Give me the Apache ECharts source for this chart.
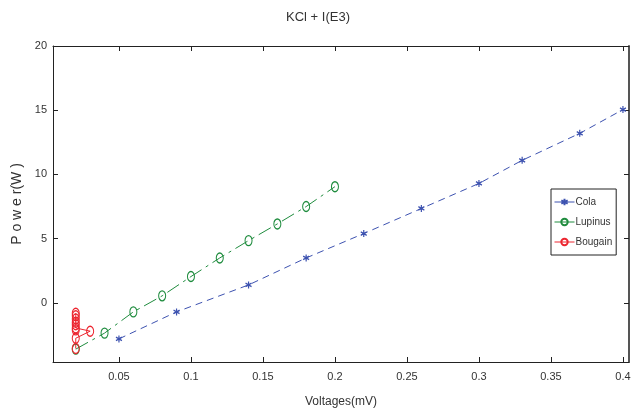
<!DOCTYPE html>
<html><head><meta charset="utf-8">
<script src="https://cdn.jsdelivr.net/npm/echarts@6/dist/echarts.min.js"></script>
<style>html,body{margin:0;padding:0;background:#fff}#c{width:636px;height:414px}</style>
</head><body><div id="c"></div>
<script>
var xTicks = [0.05, 0.1, 0.15, 0.2, 0.25, 0.3, 0.35, 0.4];
var yTicks = [0, 5, 10, 15, 20];
var colaX = [0.05, 0.09, 0.14, 0.18, 0.22, 0.26, 0.30, 0.33, 0.37, 0.40];
var colaY = [-2.8, -0.7, 1.4, 3.5, 5.4, 7.35, 9.3, 11.1, 13.2, 15.05];
var lupinusX = [0.02, 0.04, 0.06, 0.08, 0.10, 0.12, 0.14, 0.16, 0.18, 0.20];
var lupinusY = [-3.6, -2.35, -0.7, 0.55, 2.05, 3.5, 4.85, 6.15, 7.5, 9.05];
var bougainX = [0.02, 0.02, 0.02, 0.02, 0.02, 0.02, 0.02, 0.03, 0.02, 0.02];
var bougainY = [-0.8, -1.0, -1.25, -1.5, -1.7, -1.95, -2.1, -2.2, -2.75, -3.55];

function pairs(xs, ys){ return xs.map(function(x,i){ return [x, ys[i]]; }); }

var FONT = "'Liberation Sans Narrow', 'Liberation Sans', Arial, sans-serif";
var TXT = '#333';
var BLUE = '#3d52b0', GREEN = '#1f8c3e', RED = '#ec2630';
var star = 'path://M0,-1L0,1M-0.87,-0.5L0.87,0.5M-0.87,0.5L0.87,-0.5';
var ell = 'path://M0,1A1,1 0 1,0 2,1A1,1 0 1,0 0,1Z';

var xMin = 0.0042, xMax = 0.4042, yMin = -4.6, yMax = 20;

function xAx(pos, lbl, lineW){
  return {type:'value', min:xMin, max:xMax, position:pos,
    axisLine:{show:true, onZero:false, lineStyle:{color:'#222', width:lineW}},
    axisTick:{show:true, inside:true, length:5, customValues:xTicks, lineStyle:{color:'#222'}},
    axisLabel:{show:lbl, customValues:xTicks, color:TXT, fontFamily:FONT, fontSize:11, margin:9},
    splitLine:{show:false},
    name: lbl ? 'Voltages(mV)' : '', nameLocation:'middle', nameGap:34,
    nameTextStyle:{color:TXT, fontFamily:FONT, fontSize:12}};
}
function yAx(pos, lbl, lineW, col){
  return {type:'value', min:yMin, max:yMax, position:pos,
    axisLine:{show:true, onZero:false, lineStyle:{color:col, width:lineW}},
    axisTick:{show:true, inside:true, length:5, customValues:yTicks, lineStyle:{color:'#222'}},
    axisLabel:{show:lbl, customValues:yTicks, color:TXT, fontFamily:FONT, fontSize:11, margin:6},
    splitLine:{show:false},
    name: lbl ? 'P o w e r(W )' : '', nameLocation:'middle', nameGap:24,
    nameTextStyle:{color:TXT, fontFamily:FONT, fontSize:14}};
}

var chart = echarts.init(document.getElementById('c'), null, {renderer:'canvas'});
chart.setOption({
  animation:false,
  backgroundColor:'#fff',
  title:{text:'KCl + I(E3)', left:'center', top:6,
    textStyle:{color:TXT, fontFamily:FONT, fontSize:13, fontWeight:'normal'}},
  grid:{left:53, right:7, top:46, bottom:52, containLabel:false},
  xAxis:[xAx('bottom', true, 1), xAx('top', false, 1)],
  yAxis:[yAx('left', true, 1, '#222'), yAx('right', false, 2, '#555')],
  legend:{orient:'vertical', left:551, top:189,
    backgroundColor:'#fff', borderColor:'#222', borderWidth:1,
    padding:[8, 4, 8, 3], itemGap:10, itemWidth:20, itemHeight:8,
    lineStyle:{width:1, type:'solid'},
    textStyle:{color:TXT, fontFamily:FONT, fontSize:10, padding:[0,0,0,-4]},
    data:['Cola','Lupinus','Bougain']},
  series:[
    {name:'Cola', type:'line', data:pairs(colaX, colaY), symbol:star, symbolSize:[6,7],
     lineStyle:{color:BLUE, width:1, type:[7,5]},
     itemStyle:{color:BLUE, borderColor:BLUE, borderWidth:1.3}},
    {name:'Lupinus', type:'line', data:pairs(lupinusX, lupinusY), symbol:ell, symbolSize:[7,10],
     lineStyle:{color:GREEN, width:1, type:[14,5,3,5]},
     itemStyle:{color:'rgba(0,0,0,0)', borderColor:GREEN, borderWidth:1.2}},
    {name:'Bougain', type:'line', data:pairs(bougainX, bougainY), symbol:ell, symbolSize:[7,10],
     lineStyle:{color:RED, width:1},
     itemStyle:{color:'rgba(0,0,0,0)', borderColor:RED, borderWidth:1.2}}
  ]
});
</script>
</body></html>
